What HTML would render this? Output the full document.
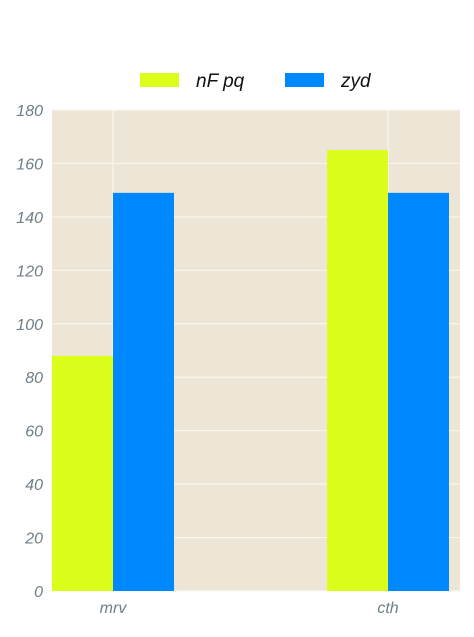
<!DOCTYPE html>
<html><head><meta charset="utf-8"><style>
body{margin:0;background:#fff;width:474px;height:632px;overflow:hidden}
text{font-family:"Liberation Sans",sans-serif;font-style:italic}
</style></head><body>
<svg id="chart" width="474" height="632"></svg>
<script>
const categories=["mrv","cth"];
const seriesNames=["nF pq","zyd"];
const seriesA=[88,165];
const seriesB=[149,149];
const yTicks=[0,20,40,60,80,100,120,140,160,180];
const colors=["#dbff1a","#0088ff"];
const NS="http://www.w3.org/2000/svg";
const svg=document.getElementById("chart");
function mk(t,a,p){const e=document.createElementNS(NS,t);for(const k in a)e.setAttribute(k,a[k]);(p||svg).appendChild(e);return e;}
const x0=52,x1=460,yTop=110,yBot=591,yMax=180;
const y=v=>yBot-(v/yMax)*(yBot-yTop);
const xc=i=>113+i*275;
const bw=61;
const bg=mk("rect",{x:x0,y:yTop,width:x1-x0,height:yBot-yTop,fill:"#ede6d6"});


yTicks.forEach(t=>{
  const l=mk("line",{x1:x0,x2:x1,y1:y(t),y2:y(t),stroke:"#faf6ec","stroke-width":1.2});
  
  
  const tx=mk("text",{x:43,y:y(t)+6,"text-anchor":"end","font-size":16,fill:"#6e7f86"});
  tx.textContent=t;
  
  
});
categories.forEach((c,i)=>{
  const l=mk("line",{x1:xc(i),x2:xc(i),y1:yTop,y2:yBot,stroke:"#faf6ec","stroke-width":1.2});
  
  
});
[seriesA,seriesB].forEach((s,si)=>{
  s.forEach((v,i)=>{
    const bx=si===0?xc(i)-bw:xc(i);
    const r=mk("rect",{x:bx,y:y(v),width:bw,height:yBot-y(v),fill:colors[si]});
    
    
  });
});
categories.forEach((c,i)=>{
  const t=mk("text",{x:xc(i),y:613,"text-anchor":"middle","font-size":16,fill:"#6e7f86"});
  t.textContent=c;
  
  
});
const legX=[140,285];
seriesNames.forEach((n,i)=>{
  const g=mk("g",{});
  
  
  mk("rect",{x:legX[i],y:73,width:39,height:14,fill:colors[i]},g);
  const t=mk("text",{x:legX[i]+56,y:87,"font-size":19,fill:"#111"},g);
  t.textContent=n;
});
</script>
</body></html>
